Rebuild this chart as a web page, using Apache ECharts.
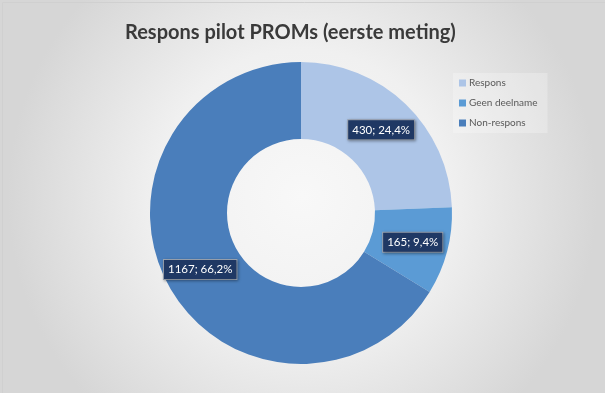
<!DOCTYPE html>
<html>
<head>
<meta charset="utf-8">
<script src="https://cdn.jsdelivr.net/npm/echarts@6/dist/echarts.min.js"></script>
<style>
html,body{margin:0;padding:0;background:#fff;}
#c{width:605px;height:393px;}
</style>
</head>
<body>
<div id="c"></div>
<script>
const titleText = 'Respons pilot PROMs (eerste meting)';
const categories = ['Respons', 'Geen deelname', 'Non-respons'];
const values = [430, 165, 1167];
const colors = ['#adc5e7', '#5b9bd5', '#4a7ebb'];

const chart = echarts.init(document.getElementById('c'), null, {renderer: 'canvas'});
chart.setOption({
  backgroundColor: {
    type: 'radial', x: 0.5, y: 0.5, r: 0.75,
    colorStops: [{offset: 0, color: '#f8f8f8'}, {offset: 0.5, color: '#f0f0f0'}, {offset: 1, color: '#d6d6d6'}]
  },
  graphic: [{
    type: 'rect', left: 0, top: 0, shape: {width: 604, height: 392},
    style: {fill: 'none', stroke: '#d0d0d0', lineWidth: 1}, silent: true
  }],
  title: {
    text: titleText, left: 120, top: 18,
    textStyle: {fontFamily: 'Lato', fontWeight: 'bold', fontSize: 20, color: '#3a3a3a'}
  },
  legend: {
    orient: 'vertical', left: 453, top: 73,
    itemWidth: 7, itemHeight: 7, itemGap: 10,
    icon: 'rect',
    backgroundColor: 'rgba(255,255,255,0.25)',
    padding: [5, 10, 5, 6],
    textStyle: {fontFamily: 'Lato', fontSize: 10, color: '#595959', padding: [0, 0, 0, -2]},
    data: categories
  },
  series: [{
    type: 'pie',
    center: [301, 213],
    radius: [74, 151],
    startAngle: 90,
    clockwise: true,
    avoidLabelOverlap: false,
    silent: true,
    color: colors,
    itemStyle: {borderWidth: 0},
    label: {
      show: true, position: 'inside',
      formatter: function (p) { return p.value + '; ' + p.percent.toFixed(1).replace('.', ',') + '%'; },
      fontFamily: 'Lato', fontSize: 11.5, color: '#ffffff',
      backgroundColor: '#1f3864', borderColor: '#9aa3b0', borderWidth: 1,
      padding: [4, 4, 3, 4],
      shadowColor: 'rgba(0,0,0,0.35)', shadowBlur: 3, shadowOffsetX: 1, shadowOffsetY: 1
    },
    labelLine: {show: false},
    data: categories.map((n, i) => ({name: n, value: values[i]}))
  }]
});
</script>
</body>
</html>
